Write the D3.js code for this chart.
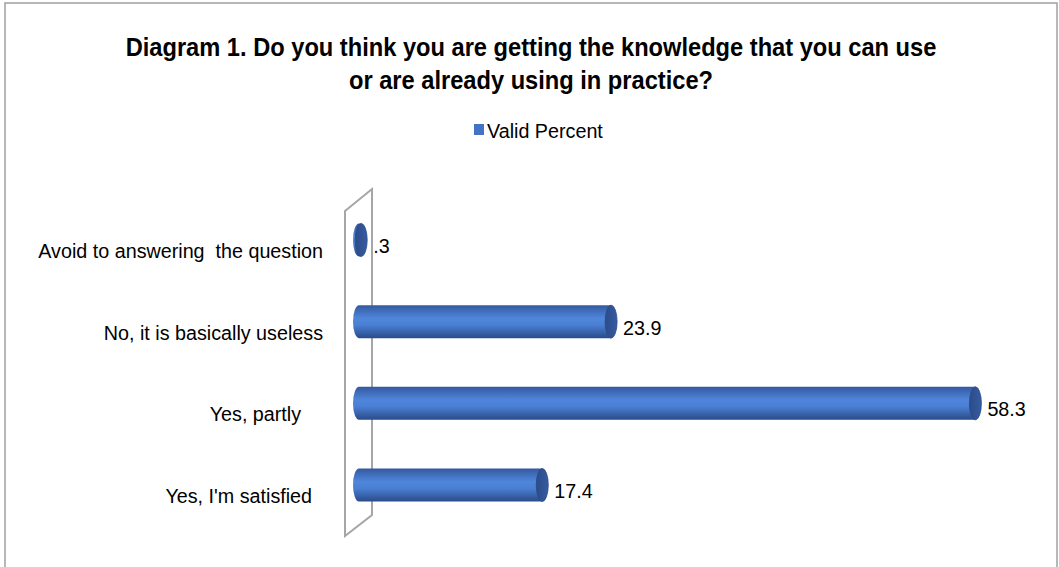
<!DOCTYPE html>
<meta charset="utf-8">
<style>
body { margin: 0; background: #fff; }
text { font-family: "Liberation Sans", Arial, sans-serif; fill: #000; white-space: pre; }
.title { font-size: 26px; font-weight: bold; }
.label { font-size: 21px; }
.wall { fill: #fff; stroke: #a6a6a6; stroke-width: 2; }
.frame { fill: #fff; stroke: #a0a0a0; stroke-width: 1.5; }
</style>
<svg width="1059" height="567"></svg>
<script src="https://d3js.org/d3.v7.min.js"></script>
<script>

// trailing spaces kept as in the source chart
var categories = ["Avoid to answering  the question", "No, it is basically useless", "Yes, partly    ", "Yes, I'm satisfied  "];
var values = [0.3, 23.9, 58.3, 17.4];
var valueLabels = [".3", "23.9", "58.3", "17.4"];
var seriesName = "Valid Percent";
var titleLines = ["Diagram 1. Do you think you are getting the knowledge that you can use",
                  "or are already using in practice?"];

var svg = d3.select("svg");
var squeeze = 0.94; // source fonts are a bit condensed
var titleSqueeze = 0.91;

svg.append("rect").attr("class", "frame")
    .attr("x", 5).attr("y", 3).attr("width", 1052).attr("height", 580);

var x = d3.scaleLinear()
    .domain([0, 60])
    .range([364, 999.4]);

var y = d3.scalePoint()
    .domain(categories)
    .range([240, 485]);

// gradients for the cylinders
var defs = svg.append("defs");
var grad = defs.append("linearGradient").attr("id", "body")
    .attr("x1", 0).attr("y1", 0).attr("x2", 0).attr("y2", 1);
grad.append("stop").attr("offset", "0%").attr("stop-color", "#34599f");
grad.append("stop").attr("offset", "40%").attr("stop-color", "#4f86dc");
grad.append("stop").attr("offset", "60%").attr("stop-color", "#4a7fd3");
grad.append("stop").attr("offset", "100%").attr("stop-color", "#2a4b88");

var capGrad = defs.append("linearGradient").attr("id", "cap")
    .attr("x1", 0).attr("y1", 0).attr("x2", 1).attr("y2", 0);
capGrad.append("stop").attr("offset", "0%").attr("stop-color", "#2c4c8a");
capGrad.append("stop").attr("offset", "100%").attr("stop-color", "#355ba0");

// title
svg.append("g").selectAll("text")
  .data(titleLines)
  .enter().append("text")
    .attr("class", "title")
    .attr("text-anchor", "middle")
    .attr("transform", function(d, i) { return "translate(531," + (56 + i * 33) + ") scale(" + titleSqueeze + ",1)"; })
    .text(function(d) { return d; });

// legend
var legend = svg.append("g").attr("transform", "translate(474,124)");
legend.append("rect").attr("width", 10).attr("height", 11).attr("fill", "#4472c4");
legend.append("text").attr("class", "label")
    .attr("transform", "translate(13,14) scale(" + squeeze + ",1)")
    .text(seriesName);

// the back wall of the 3D chart
var y0 = y.range()[0], y1 = y.range()[1];
var wallPts = [
  [x(0) - 19, y0 - 29], [x(0) + 8, y0 - 51],
  [x(0) + 8, y1 + 30], [x(0) - 19, y1 + 51]
];
svg.append("path").attr("class", "wall")
    .attr("d", "M" + wallPts.join("L") + "Z");

// category labels
svg.append("g").selectAll("text")
  .data(categories)
  .enter().append("text")
    .attr("class", "label")
    .attr("text-anchor", "end")
    .attr("transform", function(d) { return "translate(323," + (y(d) + 18) + ") scale(" + squeeze + ",1)"; })
    .text(function(d) { return d; });

// cylinders
var rx = 6, ry = 16.5, depth = 11;
var bars = svg.append("g").selectAll("g")
  .data(values)
  .enter().append("g");

bars.append("path")
    .attr("fill", "url(#body)")
    .attr("d", function(d, i) {
      var cy = y(categories[i]);
      var l = x(0) - depth + rx, r = x(d) - rx;
      return "M" + r + "," + (cy - ry) +
             "L" + l + "," + (cy - ry) +
             "A" + rx + "," + ry + " 0 0 0 " + l + "," + (cy + ry) +
             "L" + r + "," + (cy + ry) + "Z";
    });

bars.append("ellipse")
    .attr("fill", "url(#cap)")
    .attr("stroke", "#2b4a86")
    .attr("stroke-width", 0.8)
    .attr("cx", function(d) { return x(d) - rx; })
    .attr("cy", function(d, i) { return y(categories[i]); })
    .attr("rx", rx)
    .attr("ry", ry);

// value labels
bars.append("text")
    .attr("class", "label")
    .attr("transform", function(d, i) { return "translate(" + (x(d) + 6) + "," + (y(categories[i]) + 13) + ") scale(" + squeeze + ",1)"; })
    .text(function(d, i) { return valueLabels[i]; });

</script>
